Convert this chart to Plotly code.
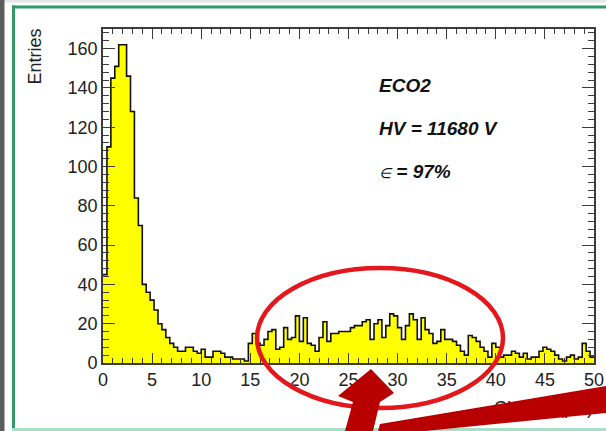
import numpy as np
import plotly.graph_objects as go

# Charge spectrum, 0.4 pC bins from 0 to 50 pC
bin_width = 0.4
x_min, x_max = 0.0, 50.0
counts = [
    45, 110, 145, 151, 162, 162, 146, 128, 84, 70,
    40, 36, 32, 27, 20, 17, 13, 10, 8, 6,
    6, 8, 8, 6, 5, 7, 3, 3, 6, 6,
    5, 3, 3, 2, 2, 2, 1, 10, 15, 10,
    9, 12, 16, 17, 7, 8, 18, 12, 13, 24,
    11, 23, 10, 9, 6, 13, 21, 11, 15, 15,
    16, 16, 16, 18, 19, 19, 21, 22, 12, 20,
    22, 13, 19, 25, 24, 18, 12, 19, 25, 22,
    12, 23, 17, 15, 10, 11, 17, 12, 12, 11,
    9, 6, 4, 14, 13, 11, 8, 6, 3, 10,
    8, 3, 4, 4, 6, 5, 3, 5, 2, 3,
    3, 6, 8, 7, 6, 4, 2, 1, 3, 4,
    2, 3, 10, 6, 3,
]
x_ticks = [0, 5, 10, 15, 20, 25, 30, 35, 40, 45, 50]
y_ticks = [0, 20, 40, 60, 80, 100, 120, 140, 160]
info_lines = ["ECO2", "HV = 11680 V",
              "<span style='font-size:14px;font-weight:normal'>\u2208</span> = 97%"]
x_title = "Charge (pC)"
y_title = "Entries"

edges = x_min + bin_width * np.arange(len(counts) + 1)
step_x = edges
step_y = np.append(counts, counts[-1])

# canvas size and frame of the histogram pad, in pixels
W, H = 606, 431
L, R, T, B = 103, 594, 29, 363


def px(x):
    return x / W


def py(y):
    return 1 - y / H


def path(points):
    pts = [f"{px(a):.5f},{py(b):.5f}" for a, b in points]
    return "M " + " L ".join(pts) + " Z"


font = "Liberation Sans, Arial, sans-serif"
axis_col = "#3c3c3c"
label_col = "#222222"

fig = go.Figure()
fig.add_trace(go.Scatter(
    x=step_x, y=step_y, mode="lines", line_shape="hv",
    line=dict(color="#111111", width=1.6),
    fill="tozeroy", fillcolor="#ffff00", hoverinfo="skip",
))
# axis title lives on a full-canvas overlay so the arrow shapes can cover it
fig.add_trace(go.Scatter(
    x=[593], y=[409], mode="text", text=[x_title],
    textposition="middle left", cliponaxis=False,
    textfont=dict(family=font, size=18, color=label_col), hoverinfo="skip",
    xaxis="x2", yaxis="y2",
))

fig.update_layout(
    xaxis=dict(
        domain=[px(L), px(R)], anchor="y", automargin=False,
        range=[x_min, x_max], tickvals=x_ticks, ticks="inside", ticklen=10,
        tickwidth=1.3, tickcolor=axis_col, showline=True, linecolor=axis_col,
        linewidth=1.6, mirror="ticks", showgrid=False, zeroline=False,
        minor=dict(dtick=1, tick0=0, ticks="inside", ticklen=5, tickwidth=1.2,
                   tickcolor=axis_col, showgrid=False),
        tickfont=dict(family=font, size=18, color=label_col),
    ),
    yaxis=dict(
        domain=[py(B), py(T)], anchor="x", automargin=False,
        range=[0, 170], tickvals=y_ticks, ticks="inside", ticklen=12,
        tickwidth=1.3, tickcolor=axis_col, showline=True, linecolor=axis_col,
        linewidth=1.6, mirror="ticks", showgrid=False, zeroline=False,
        minor=dict(dtick=4, tick0=0, ticks="inside", ticklen=6, tickwidth=1.2,
                   tickcolor=axis_col, showgrid=False),
        tickfont=dict(family=font, size=18, color=label_col),
    ),
    xaxis2=dict(domain=[0, 1], range=[0, W], visible=False, anchor="y2",
                fixedrange=True, automargin=False),
    yaxis2=dict(domain=[0, 1], range=[H, 0], visible=False, anchor="x2",
                fixedrange=True, automargin=False),
)

annotations = [
    dict(text=y_title, textangle=-90, x=px(34.5), y=py(27), xref="paper",
         yref="paper", xanchor="center", yanchor="top", showarrow=False,
         font=dict(family=font, size=18, color=label_col)),
]
for line, ypix in zip(info_lines, [86, 128, 171]):
    annotations.append(dict(
        text=line, x=px(377), y=py(ypix), xref="paper", yref="paper",
        xanchor="left", yanchor="middle", showarrow=False,
        font=dict(family=font, size=19, color="#111111", weight="bold",
                  style="italic"),
    ))

P = dict(xref="paper", yref="paper")
shapes = [
    # window chrome around the canvas
    dict(type="rect", x0=px(0), x1=px(W), y0=py(0), y1=py(2.5),
         fillcolor="#e2e7ea", line_width=0, layer="below", **P),
    dict(type="rect", x0=px(0), x1=px(4.5), y0=py(0), y1=py(H),
         fillcolor="#5c5c5c", line_width=0, layer="below", **P),
    dict(type="line", x0=px(12), x1=px(W), y0=py(7), y1=py(7),
         line=dict(color="#2f9a64", width=3), layer="below", **P),
    dict(type="line", x0=px(13.5), x1=px(13.5), y0=py(5.5), y1=py(H),
         line=dict(color="#2f9a64", width=3), layer="below", **P),
    dict(type="line", x0=px(12), x1=px(W), y0=py(429.5), y1=py(429.5),
         line=dict(color="#a6dec7", width=3), layer="below", **P),
    # highlight of the signal region
    dict(type="circle", x0=px(257), x1=px(503), y0=py(268), y1=py(408),
         line=dict(color="#e3171c", width=4.5), layer="above", **P),
    dict(type="path", path=path([(345, 431), (353, 402), (338, 396), (371, 369),
                                 (394, 393), (380, 402), (373, 431)]),
         fillcolor="#b80000", line_width=0, layer="above", **P),
    dict(type="path", path=path([(378, 431), (380, 424), (606, 386),
                                 (606, 413), (425, 431)]),
         fillcolor="#b80000", line_width=0, layer="above", **P),
]

fig.update_layout(
    width=W, height=H, margin=dict(l=0, r=0, t=0, b=0, autoexpand=False),
    paper_bgcolor="white", plot_bgcolor="rgba(0,0,0,0)", showlegend=False,
    annotations=annotations, shapes=shapes,
)

fig.write_html("out.html")
